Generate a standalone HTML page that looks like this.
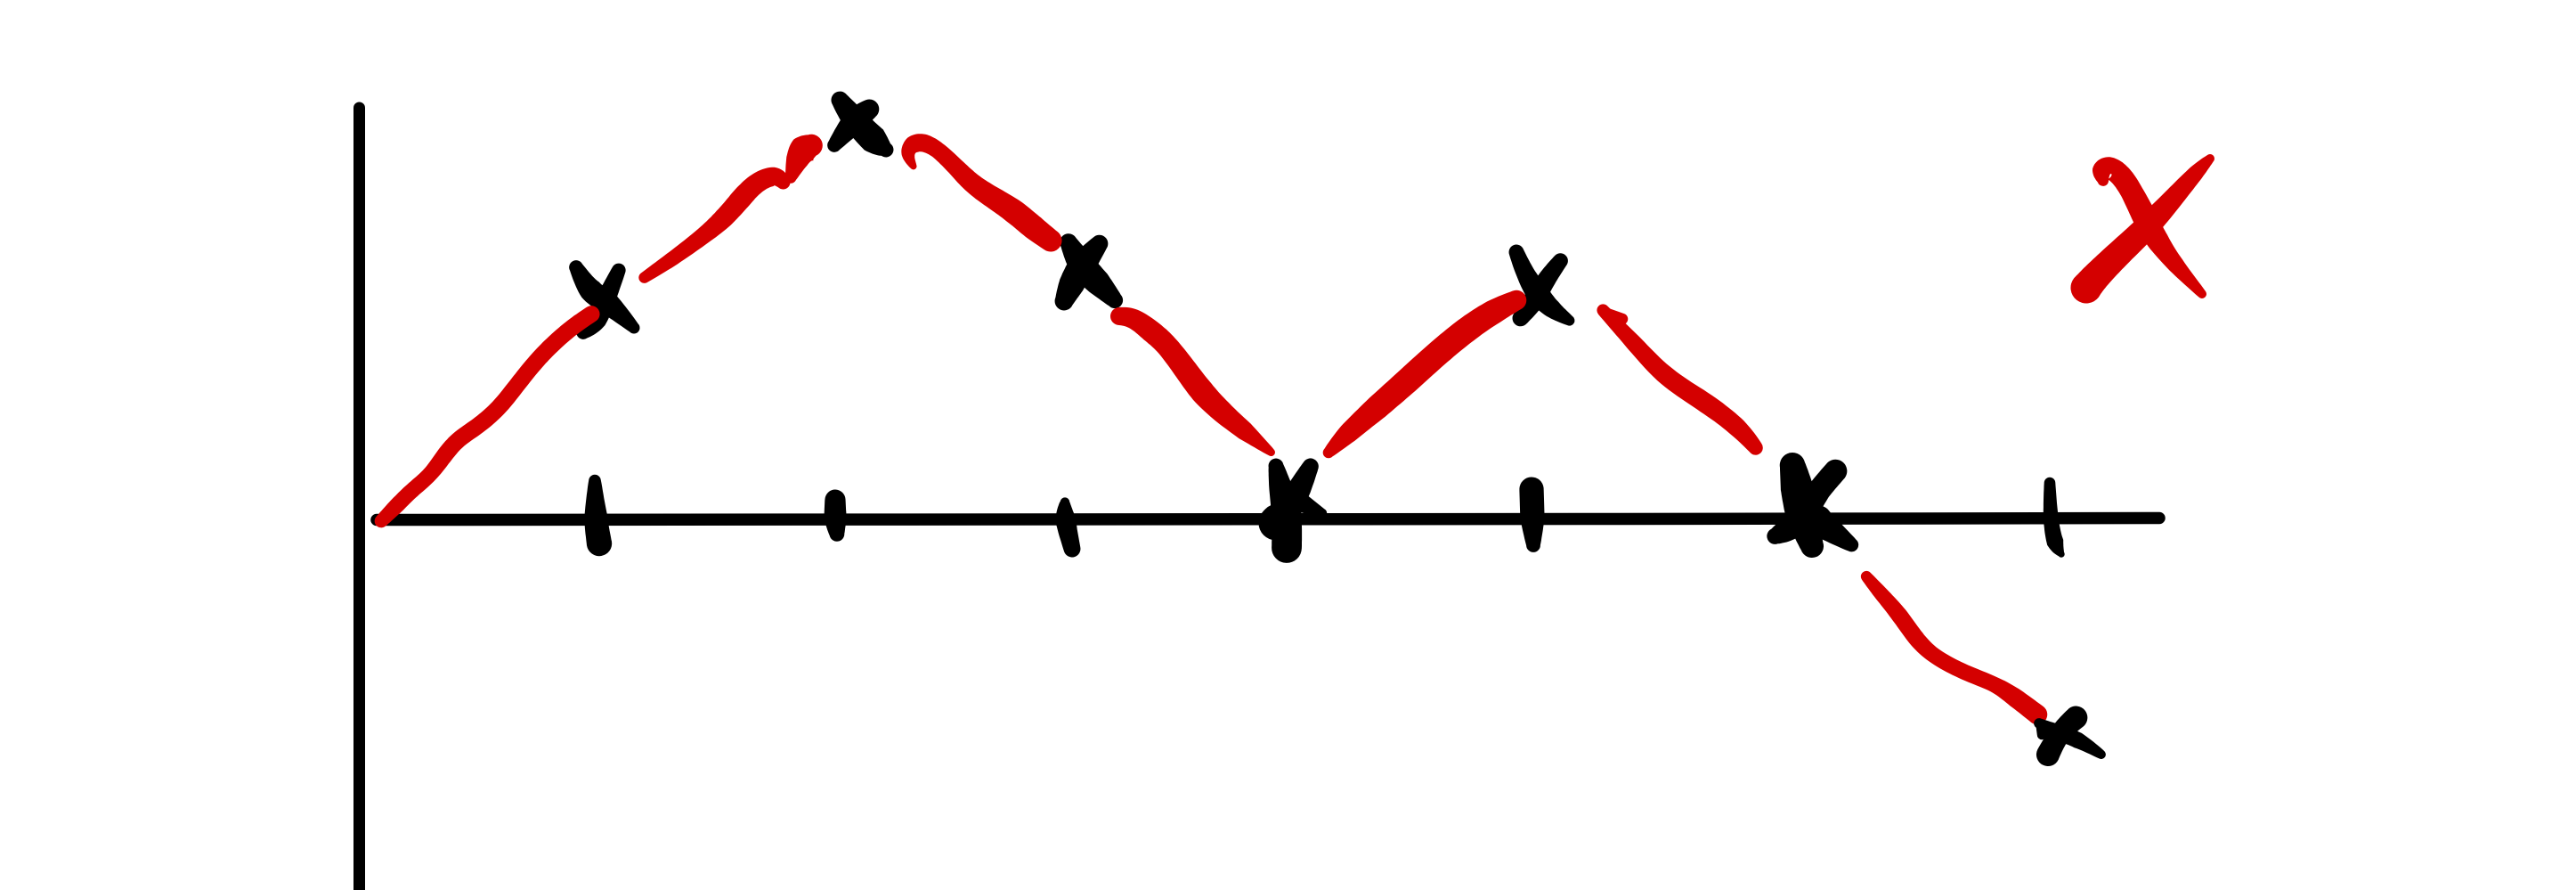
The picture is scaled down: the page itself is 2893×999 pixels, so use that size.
<!DOCTYPE html>
<html lang="en">
<head>
<meta charset="utf-8">
<title>Hand-drawn sketch chart</title>
<style>
html,body{margin:0;padding:0;background:#fff;}
svg{display:block;}
</style>
</head>
<body>
<svg id="chart" xmlns="http://www.w3.org/2000/svg" width="2893" height="999" viewBox="0 0 2893 999">
  <rect x="0" y="0" width="2893" height="999" fill="#ffffff"/>
  <g id="axes"></g>
  <g id="ticks"></g>
  <g id="points"></g>
  <g id="traces"></g>
  <g id="legend"></g>
</svg>
<script>
// ---------- DATA (axis units) ----------
const categories = [1, 2, 3, 4, 5, 6, 7];
const tickValues = [125.5, 259.5, 390, 513, 650.5, 803, 942.5];

const pointT = [129, 271.5, 396.5, 514.5, 654, 806, 947.5];
const pointV = [123.5, 222.5, 141, 11, 127.5, 4.5, -122.5];

const trace1T = [4, 12.5, 21.5, 31.5, 40, 47.5, 58.5, 70, 80, 90, 100, 111.5, 122.5];
const trace1V = [-1.5, 7, 16, 24.5, 36, 44.5, 52, 62, 74.5, 87, 97.5, 107.5, 115];
const trace2T = [151.5, 166.5, 183.5, 196.5, 206.5, 215, 225, 230];
const trace2V = [135, 145, 157.5, 168.5, 180, 188.5, 192.5, 188.5];
const trace3T = [234, 237.5, 241, 246];
const trace3V = [191, 201, 207, 209.5];
const trace4T = [303, 299.5, 302.5, 308.5, 316.5, 326.5, 336.5, 348.5, 360, 370, 380];
const trace4V = [197.5, 204.5, 210, 211, 207, 197.5, 187.5, 179.5, 172, 163.5, 156];
const trace5T = [418.5, 426.5, 436.5, 445, 455, 465, 476.5, 488.5, 504];
const trace5V = [113.5, 112.5, 105, 97.5, 84.5, 71, 59.5, 49.5, 37];
const trace6T = [536, 546.5, 563.5, 580, 596.5, 613.5, 628.5, 641.5];
const trace6V = [37, 47.5, 62.5, 77, 92, 106, 116, 122.5];
const trace7T = [690, 708.5, 725.5, 748.5, 766, 776];
const trace7V = [117, 97.5, 79.5, 64.5, 51, 39.5];
const trace8T = [692.5, 701];
const trace8V = [115, 112];
const trace9T = [838, 846.5, 856.5, 866, 876.5, 893.5, 910, 921.5, 934];
const trace9V = [-32.5, -42.5, -54, -67.5, -77.5, -86.5, -93, -100.5, -110];

// ---------- SCALES ----------
const X0 = 420, Y0 = 582, UNIT = 2;
function xScale(t){ return X0 + t * UNIT; }
function yScale(v){ return Y0 - v * UNIT; }

// ---------- STYLE ----------
const RED = '#d40000', BLACK = '#000000';
const SVGNS = 'http://www.w3.org/2000/svg';
const TRACE_PEN = 1.25, GLYPH_PEN = 1.3, TICK_PEN = 1.05;
const traceWidths = [
  [12, 14, 14, 14, 15, 15, 15, 15, 15, 15, 15, 15, 15],
  [10, 13, 15, 18, 19, 18, 17, 13],
  [10, 20, 26, 20],
  [6, 12, 16, 16, 15, 16, 18, 20, 22, 22, 20],
  [16, 18, 20, 20, 21, 22, 20, 17, 7],
  [10, 18, 22, 23, 23, 23, 22, 18],
  [11, 15, 17, 18, 17, 13],
  [10, 10],
  [10, 13, 15, 15, 14, 14, 14, 17, 18]
];
// hand-drawn glyph shapes: offsets from a point's centre, with pen widths
const glyphs = [
  [{o:[[-31,-35],[-15,-8],[5,5],[34,33]], w:[12,20,20,10]}, {o:[[17,-32],[5,-5],[-8,25],[-23,38]], w:[12,16,18,12]}],
  [{o:[[-20,-25],[-3,-2],[19,21],[32,31]], w:[15,22,24,13]}, {o:[[14,-15],[-3,-2],[-26,26]], w:[17,22,12]}],
  [{o:[[-13,-28],[2,-2],[20,17],[39,37]], w:[15,24,22,14]}, {o:[[22,-27],[2,-2],[-10,20],[-18,38]], w:[15,24,22,16]}],
  [{o:[[-16,-37],[-11,-13],[-4,20],[-4,55]], w:[13,20,26,26]}, {o:[[23,-37],[11,-13],[-2,13]], w:[14,20,22]}, {o:[[4,0],[36,16]], w:[20,8]}, {o:[[-14,25],[-16,27]], w:[30,30]}],
  [{o:[[-25,-44],[-15,-20],[-1,3],[15,20],[35,33]], w:[13,16,20,16,9]}, {o:[[25,-35],[9,-14],[-5,10],[-21,31]], w:[13,16,18,14]}],
  [{o:[[-19,-51],[-14,-26],[-9,4],[3,40]], w:[22,28,28,20]}, {o:[[30,-45],[11,-23],[-5,0],[-22,20],[-39,29]], w:[20,20,24,22,14]}, {o:[[10,10],[21,20],[48,39]], w:[24,22,12]}],
  [{o:[[-25,-15],[-5,-5],[18,3],[45,20]], w:[9,14,14,8]}, {o:[[17,-22],[-2,-4],[-15,20]], w:[20,18,20]}, {o:[[-22,-12],[-22,-2]], w:[10,8]}]
];
const tickShapes = [
  {o:[[-3,-43],[-2,0],[2,28]], w:[13,25,27]},
  {o:[[-1,-22],[-1,0],[1,18]], w:[22,24,16]},
  {o:[[-4,-19],[-4,0],[4,34]], w:[10,22,18]},
  {o:[[-4,-10],[-4,10]], w:[20,20]},
  {o:[[-1,-34],[0,0],[1,30]], w:[26,26,15]},
  {o:[[0,-20],[0,0],[2,30]], w:[16,20,14]},
  {o:[[-3,-40],[-2,0],[3,28],[10,40]], w:[12,16,18,7]}
];

// ---------- STROKE HELPERS ----------
function smooth(pts){
  if(pts.length < 3) return pts.slice();
  let out = [];
  for(let i = 0; i < pts.length - 1; i++){
    const p0 = pts[Math.max(0, i - 1)], p1 = pts[i], p2 = pts[i + 1], p3 = pts[Math.min(pts.length - 1, i + 2)];
    for(let k = 0; k < 10; k++){
      const s = k / 10, s2 = s * s, s3 = s2 * s;
      out.push([
        0.5 * (2 * p1[0] + (p2[0] - p0[0]) * s + (2 * p0[0] - 5 * p1[0] + 4 * p2[0] - p3[0]) * s2 + (3 * p1[0] - p0[0] - 3 * p2[0] + p3[0]) * s3),
        0.5 * (2 * p1[1] + (p2[1] - p0[1]) * s + (2 * p0[1] - 5 * p1[1] + 4 * p2[1] - p3[1]) * s2 + (3 * p1[1] - p0[1] - 3 * p2[1] + p3[1]) * s3)
      ]);
    }
  }
  out.push(pts[pts.length - 1]);
  // iron out small kinks in the centre line, endpoints stay fixed
  for(let pass = 0; pass < 3; pass++){
    out = out.map(function(p, i){
      const h = Math.min(3, i, out.length - 1 - i);
      let sx = 0, sy = 0;
      for(let j = -h; j <= h; j++){ sx += out[i + j][0]; sy += out[i + j][1]; }
      return [sx / (2 * h + 1), sy / (2 * h + 1)];
    });
  }
  return out;
}
function widthAt(ws, f){
  const p = f * (ws.length - 1), i = Math.min(ws.length - 2, Math.floor(p));
  return ws[i] + (ws[i + 1] - ws[i]) * (p - i);
}
function brushPath(pts, ws, pen){
  const c = smooth(pts), n = c.length, left = [], right = [];
  for(let i = 0; i < n; i++){
    const a = c[Math.max(0, i - 1)], b = c[Math.min(n - 1, i + 1)];
    let dx = b[0] - a[0], dy = b[1] - a[1];
    const len = Math.hypot(dx, dy) || 1;
    dx /= len; dy /= len;
    const r = pen * widthAt(ws, i / (n - 1)) / 2;
    left.push([c[i][0] - dy * r, c[i][1] + dx * r]);
    right.push([c[i][0] + dy * r, c[i][1] - dx * r]);
  }
  const rEnd = pen * ws[ws.length - 1] / 2, rStart = pen * ws[0] / 2;
  let d = 'M' + left[0][0].toFixed(1) + ' ' + left[0][1].toFixed(1);
  for(let i = 1; i < n; i++) d += 'L' + left[i][0].toFixed(1) + ' ' + left[i][1].toFixed(1);
  d += 'A' + rEnd + ' ' + rEnd + ' 0 0 0 ' + right[n - 1][0].toFixed(1) + ' ' + right[n - 1][1].toFixed(1);
  for(let i = n - 2; i >= 0; i--) d += 'L' + right[i][0].toFixed(1) + ' ' + right[i][1].toFixed(1);
  d += 'A' + rStart + ' ' + rStart + ' 0 0 0 ' + left[0][0].toFixed(1) + ' ' + left[0][1].toFixed(1) + 'Z';
  return d;
}
function brush(parent, name, pts, ws, color, pen){
  const el = document.createElementNS(SVGNS, 'path');
  
  
  el.setAttribute('d', brushPath(pts, ws, pen));
  el.setAttribute('fill', color);
  parent.appendChild(el);
}
function glyphAt(parent, name, cx, cy, arms, color, pen){
  const g = document.createElementNS(SVGNS, 'g');
  
  
  arms.forEach(function(arm){
    const el = document.createElementNS(SVGNS, 'path');
    
    
    el.setAttribute('d', brushPath(arm.o.map(function(p){ return [cx + p[0], cy + p[1]]; }), arm.w, pen));
    el.setAttribute('fill', color);
    g.appendChild(el);
  });
  parent.appendChild(g);
}

// ---------- AXES ----------
const axes = document.getElementById('axes');
const yAxis = document.createElementNS(SVGNS, 'line');


yAxis.setAttribute('x1', 403.5);
yAxis.setAttribute('y1', 121);
yAxis.setAttribute('x2', 403.5);
yAxis.setAttribute('y2', 1010);
yAxis.setAttribute('stroke', BLACK);
yAxis.setAttribute('stroke-width', 13);
yAxis.setAttribute('stroke-linecap', 'round');
axes.appendChild(yAxis);

const xAxis = document.createElementNS(SVGNS, 'path');


xAxis.setAttribute('d', 'M423 583.5 L1820 582.5 L2425 581.5');
xAxis.setAttribute('fill', 'none');
xAxis.setAttribute('stroke', BLACK);
xAxis.setAttribute('stroke-width', 13.5);
xAxis.setAttribute('stroke-linecap', 'round');
axes.appendChild(xAxis);

// ---------- TICKS ----------
const tickLayer = document.getElementById('ticks');
tickValues.forEach(function(t, i){
  glyphAt(tickLayer, 'x-tick-' + categories[i], xScale(t), yScale(0), [tickShapes[i]], BLACK, TICK_PEN);
});

// ---------- POINTS ----------
const pointLayer = document.getElementById('points');
pointT.forEach(function(t, i){
  glyphAt(pointLayer, 'data-point-' + categories[i], xScale(t), yScale(pointV[i]), glyphs[i], BLACK, GLYPH_PEN);
});

// ---------- RED TRACE ----------
const traceLayer = document.getElementById('traces');
const traceTs = [trace1T, trace2T, trace3T, trace4T, trace5T, trace6T, trace7T, trace8T, trace9T];
const traceVs = [trace1V, trace2V, trace3V, trace4V, trace5V, trace6V, trace7V, trace8V, trace9V];
traceTs.forEach(function(ts, i){
  const pts = ts.map(function(t, k){ return [xScale(t), yScale(traceVs[i][k])]; });
  brush(traceLayer, 'red-trace-segment-' + (i + 1), pts, traceWidths[i], RED, TRACE_PEN);
});

// last point sits over the red trace
const svgRoot = document.getElementById('chart');
svgRoot.insertBefore(pointLayer.lastChild, document.getElementById('legend'));

// ---------- LEGEND CROSS ----------
const legendLayer = document.getElementById('legend');
glyphAt(legendLayer, 'legend-red-cross', 2413, 256, [
  {o:[[-51,-53],[-53,-64],[-45,-68],[-33,-61],[-20,-43],[-3,-9],[10,14],[30,41],[60,74]], w:[10,18,20,20,20,22,20,15,8]},
  {o:[[-70,67],[-60,55],[-36,31],[0,-3],[30,-36],[54,-63],[69,-78]], w:[28,26,24,22,18,14,8]}
], RED, TRACE_PEN);
</script>
</body>
</html>
